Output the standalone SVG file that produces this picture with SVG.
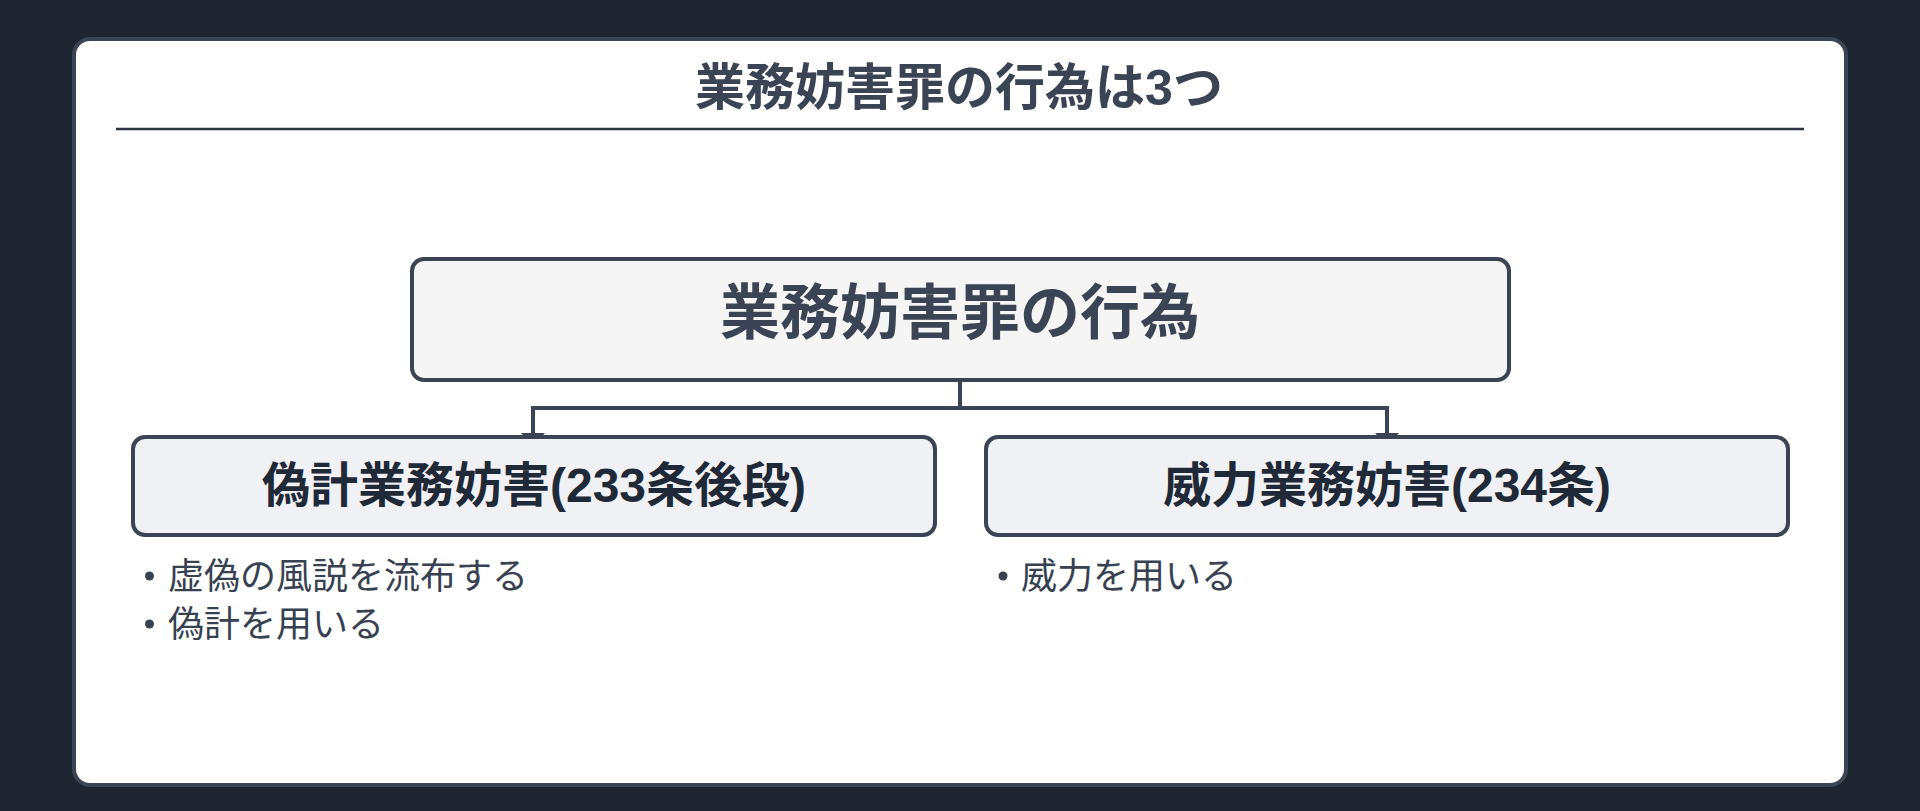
<svg xmlns="http://www.w3.org/2000/svg" width="1920" height="811" viewBox="0 0 1920 811">
  <defs>
    <style>
      .jp { font-family: "Liberation Sans", "Noto Sans CJK JP", sans-serif; }
      .title { font-size: 50px; font-weight: 700; fill: #3b4454; }
      .root-box { fill: #f5f5f5; stroke: #3b4454; stroke-width: 4; }
      .root-text { font-size: 60px; font-weight: 600; fill: #3b4454; }
      .child-box { fill: #eff1f5; stroke: #3b4454; stroke-width: 4; }
      .child-text { font-size: 48px; font-weight: 700; fill: #1f2937; }
      .item { font-size: 36px; font-weight: 400; fill: #374151; }
      .dot { fill: #374151; }
      .conn { fill: none; stroke: #3b4454; stroke-width: 4; }
    </style>
    <marker id="arrow" viewBox="0 0 14 24" refX="14" refY="12" markerWidth="14" markerHeight="24" markerUnits="userSpaceOnUse" orient="auto">
      <path d="M0,0 L14,12 L0,24 Z" fill="#3b4454"/>
    </marker>
  </defs>

  <rect x="0" y="0" width="1920" height="811" fill="#1e2530"/>

  <g id="card">
    <rect x="74" y="39" width="1772" height="746" rx="16" ry="16" fill="#ffffff" stroke="#3b4454" stroke-width="4"/>
    <text class="jp title" x="959" y="105" text-anchor="middle">業務妨害罪の行為は3つ</text>
    <line x1="116" y1="129" x2="1804" y2="129" stroke="#2d3440" stroke-width="2.5"/>
  </g>

  <g id="connectors">
    <path class="conn" d="M960,381 V408 H533 V447" marker-end="url(#arrow)"/>
    <path class="conn" d="M960,408 H1387 V447" marker-end="url(#arrow)"/>
  </g>

  <g id="node-root">
    <rect class="root-box" x="412" y="259" width="1097" height="121" rx="12" ry="12"/>
    <text class="jp root-text" x="960" y="334" text-anchor="middle">業務妨害罪の行為</text>
  </g>

  <g id="node-gikei">
    <rect class="child-box" x="133" y="437" width="802" height="98" rx="12" ry="12"/>
    <text class="jp child-text" x="534" y="502" text-anchor="middle">偽計業務妨害(233条後段)</text>
    <circle class="dot" cx="149.5" cy="576" r="4.5"/>
    <text class="jp item" x="168" y="589">虚偽の風説を流布する</text>
    <circle class="dot" cx="149.5" cy="624" r="4.5"/>
    <text class="jp item" x="168" y="637">偽計を用いる</text>
  </g>

  <g id="node-iryoku">
    <rect class="child-box" x="986" y="437" width="802" height="98" rx="12" ry="12"/>
    <text class="jp child-text" x="1387" y="502" text-anchor="middle">威力業務妨害(234条)</text>
    <circle class="dot" cx="1003" cy="576" r="4.5"/>
    <text class="jp item" x="1021" y="589">威力を用いる</text>
  </g>
</svg>
